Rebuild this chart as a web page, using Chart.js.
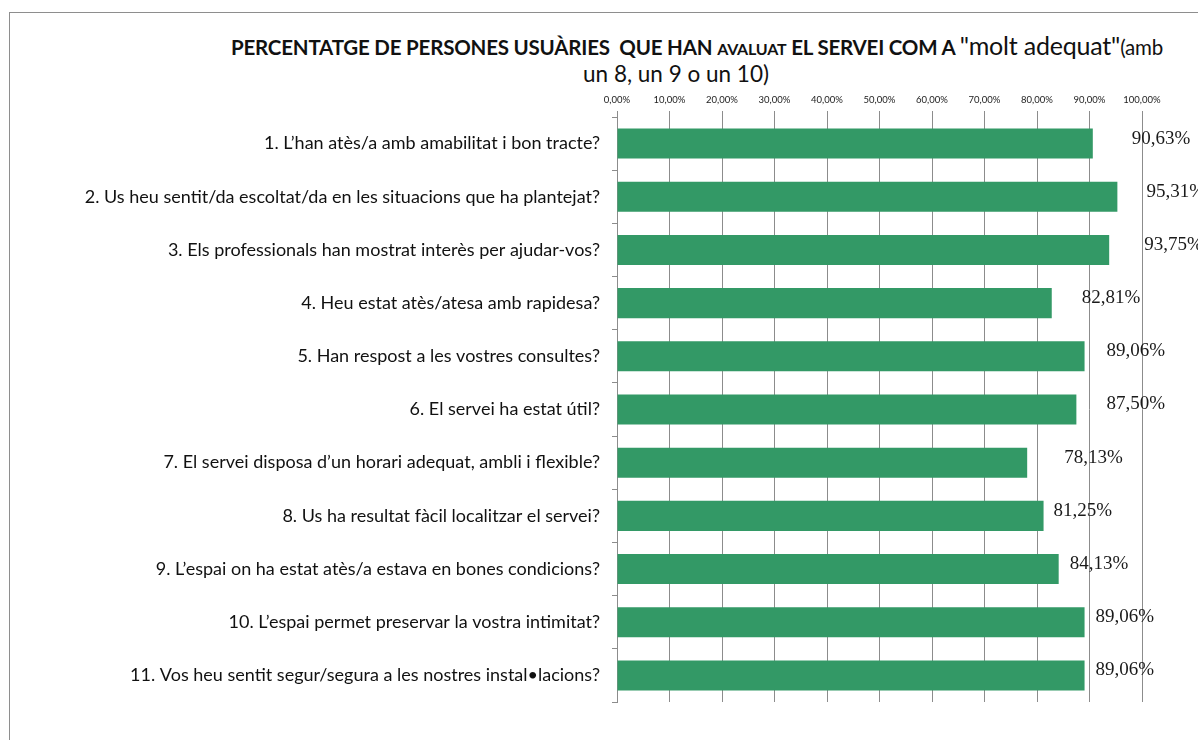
<!DOCTYPE html>
<html lang="ca">
<head>
<meta charset="utf-8">
<title>Valoració del servei</title>
<script src="https://cdn.jsdelivr.net/npm/chart.js@4.4.1/dist/chart.umd.min.js"></script>
<style>
  html, body { margin: 0; padding: 0; background: #fff; overflow: hidden; }
  #frame {
    position: absolute; left: 9px; top: 12px; width: 1300px; height: 800px;
    border: 1px solid #8e8e8e; box-sizing: border-box;
  }
  .ttl {
    position: absolute; white-space: nowrap; transform: translateX(-50%);
    font-family: Lato, "Liberation Sans", sans-serif;
    color: #111; line-height: 1;
  }
  #t1 { left: 697px; top: 33px; font-size: 20.5px; font-weight: bold; letter-spacing: -0.2px; }
  #t1 .sm { font-size: 16px; }
  #t1 .big { font-size: 25px; font-weight: normal; }
  #t1 .nb { font-weight: normal; }
  #t2 { left: 676px; top: 63px; font-size: 22.5px; }
  #chart { position: absolute; left: 0; top: 0; }
</style>
</head>
<body>
<div id="frame"></div>
<div class="ttl" id="t1">PERCENTATGE DE PERSONES USUÀRIES&nbsp; QUE HAN <span class="sm">AVALUAT</span> EL SERVEI COM A <span class="big">"molt adequat"</span><span class="nb">(amb</span></div>
<div class="ttl" id="t2">un 8, un 9 o un 10)</div>
<canvas id="chart" width="1198" height="740"></canvas>
<script>
(function(){
  /* ── Dades ── */
  const preguntes = [
    '1. L\u2019han atès/a amb amabilitat i bon tracte?',
    '2. Us heu sentit/da escoltat/da en les situacions que ha plantejat?',
    '3. Els professionals han mostrat interès per ajudar-vos?',
    '4. Heu estat atès/atesa amb rapidesa?',
    '5. Han respost a les vostres consultes?',
    '6. El servei ha estat útil?',
    '7. El servei disposa d\u2019un horari adequat, ambli i flexible?',
    '8. Us ha resultat fàcil localitzar el servei?',
    '9. L\u2019espai on ha estat atès/a estava en bones condicions?',
    '10. L\u2019espai permet preservar la vostra intimitat?',
    '11. Vos heu sentit segur/segura a les nostres instal\u2022lacions?',
  ];
  const moltAdequat = [90.63, 95.31, 93.75, 82.81, 89.06, 87.50, 78.13, 81.25, 84.13, 89.06, 89.06];
  const escalaTicks = [0, 10, 20, 30, 40, 50, 60, 70, 80, 90, 100];

  const pct = v => v.toFixed(2).replace('.', ',') + '%';
  const sans = 'Lato, "Liberation Sans", sans-serif';

  /* ── Etiquetes de valor (col·locades a mà, com a l'original) ── */
  const valueLabels = {
    id: 'valueLabels',
    afterDatasetsDraw(chart, args, opts) {
      const { ctx } = chart;
      const meta = chart.getDatasetMeta(0);
      const data = chart.data.datasets[0].data;
      ctx.save();
      ctx.font = opts.font;
      ctx.fillStyle = opts.color;
      ctx.textBaseline = 'middle';
      ctx.textAlign = 'left';
      meta.data.forEach((bar, i) => {
        const dx = opts.nudge[i] ?? 20;
        ctx.fillText(pct(data[i]), bar.x + dx, bar.y + opts.dy);
      });
      ctx.restore();
    }
  };

  new Chart(document.getElementById('chart'), {
    type: 'bar',
    data: {
      labels: preguntes,
      datasets: [{
        data: moltAdequat,
        backgroundColor: '#339966',
        borderWidth: 0,
        barPercentage: 0.565,
        categoryPercentage: 1,
      }],
    },
    options: {
      indexAxis: 'y',
      responsive: false,
      animation: false,
      layout: { padding: { left: 0, right: 56, top: 0, bottom: 38 } },
      plugins: {
        legend: { display: false },
        tooltip: { enabled: false },
        valueLabels: {
          font: '19px "Liberation Serif", "Times New Roman", serif',
          color: '#1a1a1a',
          dy: -5,
          nudge: [39, 29, 35, 30, 22, 30, 37, 10, 11, 11, 11],
        },
      },
      scales: {
        x: {
          position: 'top',
          min: 0,
          max: 100,
          afterFit: s => { s.height = 117; },
          afterBuildTicks: s => { s.ticks = escalaTicks.map(v => ({ value: v })); },
          grid: { color: '#8c8c8c', lineWidth: 1, tickLength: 6, drawTicks: true },
          border: { display: false },
          ticks: {
            padding: 5,
            color: '#222',
            font: { family: sans, size: 9.5 },
            callback: v => pct(v),
          },
        },
        y: {
          afterFit: s => { s.width = 617; },
          grid: { offset: true, drawOnChartArea: false, drawTicks: true, tickLength: 5, color: '#8c8c8c' },
          border: { display: true, color: '#8c8c8c' },
          ticks: {
            padding: 12,
            color: '#111',
            font: { family: sans, size: 18 },
            autoSkip: false,
          },
        },
      },
    },
    plugins: [valueLabels],
  });
})();
</script>
</body>
</html>
